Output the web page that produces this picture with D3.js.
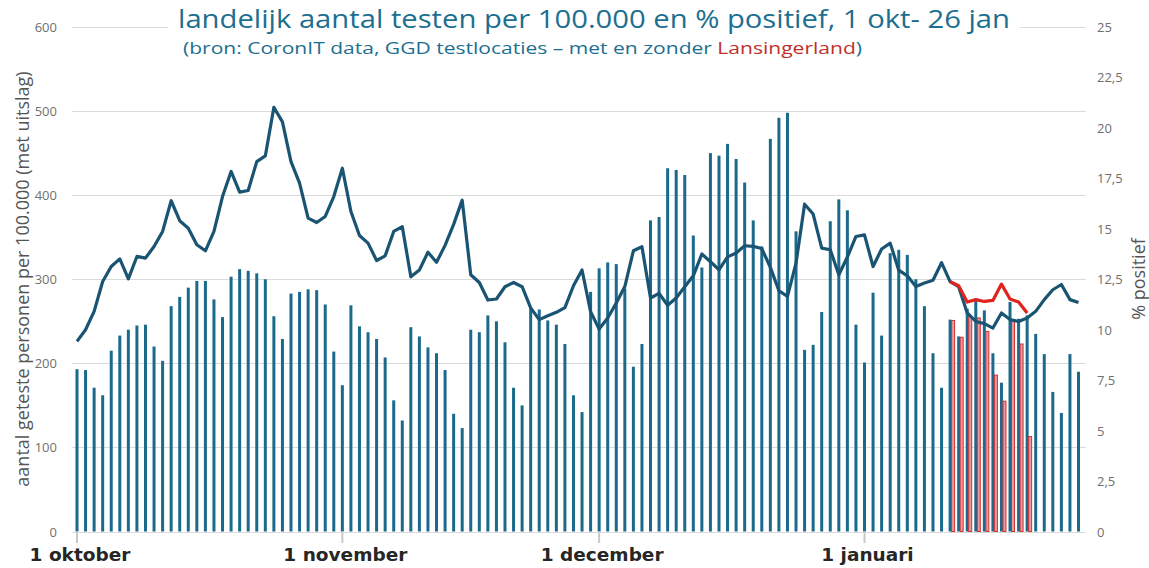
<!DOCTYPE html>
<html>
<head>
<meta charset="utf-8">
<script src="https://cdn.jsdelivr.net/npm/d3@7"></script>
<style>
  body { margin: 0; background: #fff; }
  svg { display: block; }
</style>
</head>
<body>
<svg id="chart" width="1149" height="568"></svg>
<script>
// aantal geteste personen per 100.000 (met uitslag), 1 okt - 26 jan
const testsAll = [
  193, 192, 171, 162, 215, 233, 240, 245, 246, 220, 203, 268, 279, 290, 298, 298,
  276, 255, 303, 312, 310, 307, 300, 256, 229, 283, 285, 288, 287, 270, 214,
  174, 269, 244, 237, 229, 207, 156, 132, 243, 232, 219, 212, 192, 140, 123,
  240, 237, 257, 250, 225, 171, 150, 265, 264, 251, 246, 223, 162, 142, 285,
  313, 320, 318, 289, 196, 223, 370, 374, 432, 430, 424, 352, 314, 450, 447,
  461, 443, 415, 370, 339, 467, 492, 498, 357, 216, 222, 261, 369, 395, 382,
  246, 201, 284, 233, 331, 335, 329, 300, 268, 212, 171, 252, 232, 265, 277,
  263, 212, 177, 273, 253, 257, 235, 211, 166, 141, 211, 190
];
// % positief
const posAll = [
  9.42, 10.0, 10.91, 12.39, 13.13, 13.51, 12.52, 13.63, 13.55, 14.12, 14.87, 16.39,
  15.40, 15.03, 14.21, 13.91, 14.87, 16.60, 17.84, 16.82, 16.90, 18.33, 18.61, 21.02,
  20.30, 18.33, 17.26, 15.53, 15.31, 15.61, 16.60,
  18.00, 15.86, 14.67, 14.29, 13.43, 13.66, 14.87, 15.11, 12.62, 12.96, 13.84, 13.34,
  14.18, 15.22, 16.42, 12.72, 12.34, 11.47, 11.52, 12.13, 12.34, 12.13, 11.08, 10.50,
  10.69, 10.86, 11.09, 12.18, 12.96, 10.89,
  10.03, 10.58, 11.32, 12.14, 13.91, 14.11, 11.57, 11.80, 11.21, 11.57, 12.13, 12.67,
  13.75, 13.37, 12.97, 13.61, 13.80, 14.16, 14.13, 14.02, 13.09, 11.93, 11.65, 13.30,
  16.22, 15.73, 14.04, 13.96, 12.72, 13.60, 14.62,
  14.70, 13.13, 14.00, 14.29, 12.95, 12.67, 12.14, 12.31, 12.45, 13.32, 12.38, 12.13,
  10.83, 10.41, 10.30, 10.08, 10.83, 10.50, 10.41, 10.58, 10.91, 11.49, 11.98, 12.24,
  11.49, 11.35
];
// zonder Lansingerland: 11 jan - 20 jan
const exclStart = new Date(2021, 0, 11);
const testsExcl = [251, 231, 256, 254, 238, 186, 155, 250, 223, 113];
const posExcl = [12.38, 12.18, 11.37, 11.49, 11.40, 11.45, 12.26, 11.52, 11.37, 10.83];

const leftTicks = [0, 100, 200, 300, 400, 500, 600];
const rightTicks = [0, 2.5, 5, 7.5, 10, 12.5, 15, 17.5, 20, 22.5, 25];
const monthTicks = [new Date(2020, 9, 1), new Date(2020, 10, 1), new Date(2020, 11, 1), new Date(2021, 0, 1)];
const monthLabels = ["1 oktober", "1 november", "1 december", "1 januari"];

const startDate = new Date(2020, 9, 1);
const dayAt = (i) => d3.timeDay.offset(startDate, i);
const exclDay = (i) => d3.timeDay.offset(exclStart, i);

const blue = "#1b6a8c";
const lineBlue = "#1a5473";
const red = "#e0231d";

const svg = d3.select("#chart");

const x = d3.scaleTime()
  .domain([startDate, new Date(2021, 0, 26)])
  .range([77, 1078.5]);
const yL = d3.scaleLinear().domain([0, 600]).range([531.5, 27]);
const yR = d3.scaleLinear().domain([0, 25]).range([531.5, 27]);

// gridlines
svg.append("g")
  .selectAll("line")
  .data(leftTicks)
  .join("line")
  .attr("x1", 72)
  .attr("x2", 1086)
  .attr("y1", (d) => Math.round(yL(d)) + 0.5)
  .attr("y2", (d) => Math.round(yL(d)) + 0.5)
  .attr("stroke", "#dadada")
  .attr("stroke-width", 1);

// left axis labels
svg.append("g")
  .selectAll("text")
  .data(leftTicks)
  .join("text")
  .attr("x", 57)
  .attr("y", (d) => yL(d) + 5)
  .attr("text-anchor", "end")
  .attr("font-family", "Open Sans")
  .attr("font-size", 13)
  .attr("fill", "#707070")
  .text((d) => d);

// right axis labels
svg.append("g")
  .selectAll("text")
  .data(rightTicks)
  .join("text")
  .attr("x", 1097)
  .attr("y", (d) => yR(d) + 5)
  .attr("font-family", "Open Sans")
  .attr("font-size", 13)
  .attr("fill", "#707070")
  .text((d) => String(d).replace(".", ","));

// axis titles
svg.append("text")
  .attr("transform", `translate(${29}, ${279})rotate(-90)`)
  .attr("text-anchor", "middle")
  .attr("font-family", "Open Sans")
  .attr("font-size", 18)
  .attr("fill", "#555")
  .text("aantal geteste personen per 100.000 (met uitslag)");

svg.append("text")
  .attr("transform", `translate(${1145}, ${279})rotate(-90)`)
  .attr("text-anchor", "middle")
  .attr("font-family", "Open Sans")
  .attr("font-size", 18)
  .attr("fill", "#555")
  .text("% positief");

// x ticks
const xt = svg.append("g");
xt.selectAll("line")
  .data(monthTicks)
  .join("line")
  .attr("x1", (d) => x(d))
  .attr("x2", (d) => x(d))
  .attr("y1", 533)
  .attr("y2", 543)
  .attr("stroke", "#c8c8c8")
  .attr("stroke-width", 2);
xt.selectAll("text")
  .data(monthTicks)
  .join("text")
  .attr("x", (d) => x(d) + 3)
  .attr("y", 561)
  .attr("text-anchor", "middle")
  .attr("font-family", "DejaVu Sans")
  .attr("font-weight", "bold")
  .attr("font-size", 18.5)
  .attr("fill", "#262626")
  .text((d, i) => monthLabels[i]);

// bars
svg.append("g")
  .selectAll("rect")
  .data(testsAll)
  .join("rect")
  .attr("x", (d, i) => x(dayAt(i)) - 1.5)
  .attr("width", 3)
  .attr("y", (d) => yL(d))
  .attr("height", (d) => yL(0) - yL(d))
  .attr("fill", blue);

svg.append("g")
  .selectAll("rect")
  .data(testsExcl)
  .join("rect")
  .attr("x", (d, i) => x(exclDay(i)) + 1.5)
  .attr("width", 3)
  .attr("y", (d) => yL(d))
  .attr("height", (d) => yL(0) - yL(d))
  .attr("fill", "#e69aa4")
  .attr("stroke", "#d2312e")
  .attr("stroke-width", 1);

// lines
const lineAll = d3.line()
  .x((d, i) => x(dayAt(i)))
  .y((d) => yR(d));
const lineExcl = d3.line()
  .x((d, i) => x(exclDay(i)))
  .y((d) => yR(d));

svg.append("path")
  .attr("d", lineAll(posAll))
  .attr("fill", "none")
  .attr("stroke", lineBlue)
  .attr("stroke-width", 3.2)
  .attr("stroke-linejoin", "round");

svg.append("path")
  .attr("d", lineExcl(posExcl))
  .attr("fill", "none")
  .attr("stroke", red)
  .attr("stroke-width", 3.2)
  .attr("stroke-linejoin", "round");

// title with white backing over the top gridline
const titleG = svg.append("g");
const titleBg = titleG.append("rect").attr("fill", "#fff");
const title = titleG.append("text")
  .attr("x", 178)
  .attr("y", 28)
  .attr("font-family", "Open Sans")
  .attr("font-size", 26)
  .attr("fill", "#1c6f90")
  .attr("textLength", 832)
  .attr("lengthAdjust", "spacingAndGlyphs")
  .text("landelijk aantal testen per 100.000 en % positief, 1 okt- 26 jan");
const tb = title.node().getBBox();
titleBg
  .attr("x", tb.x - 10)
  .attr("y", tb.y)
  .attr("width", tb.width + 20)
  .attr("height", tb.height);

const sub = svg.append("text")
  .attr("x", 183)
  .attr("y", 54)
  .attr("font-family", "Open Sans")
  .attr("font-size", 17)
  .attr("fill", "#1c6f90")
  .attr("textLength", 679)
  .attr("lengthAdjust", "spacingAndGlyphs");
sub.append("tspan").text("(bron: CoronIT data, GGD testlocaties \u2013 met en zonder ");
sub.append("tspan").attr("fill", "#c0302a").text("Lansingerland");
sub.append("tspan").text(")");
</script>
</body>
</html>
